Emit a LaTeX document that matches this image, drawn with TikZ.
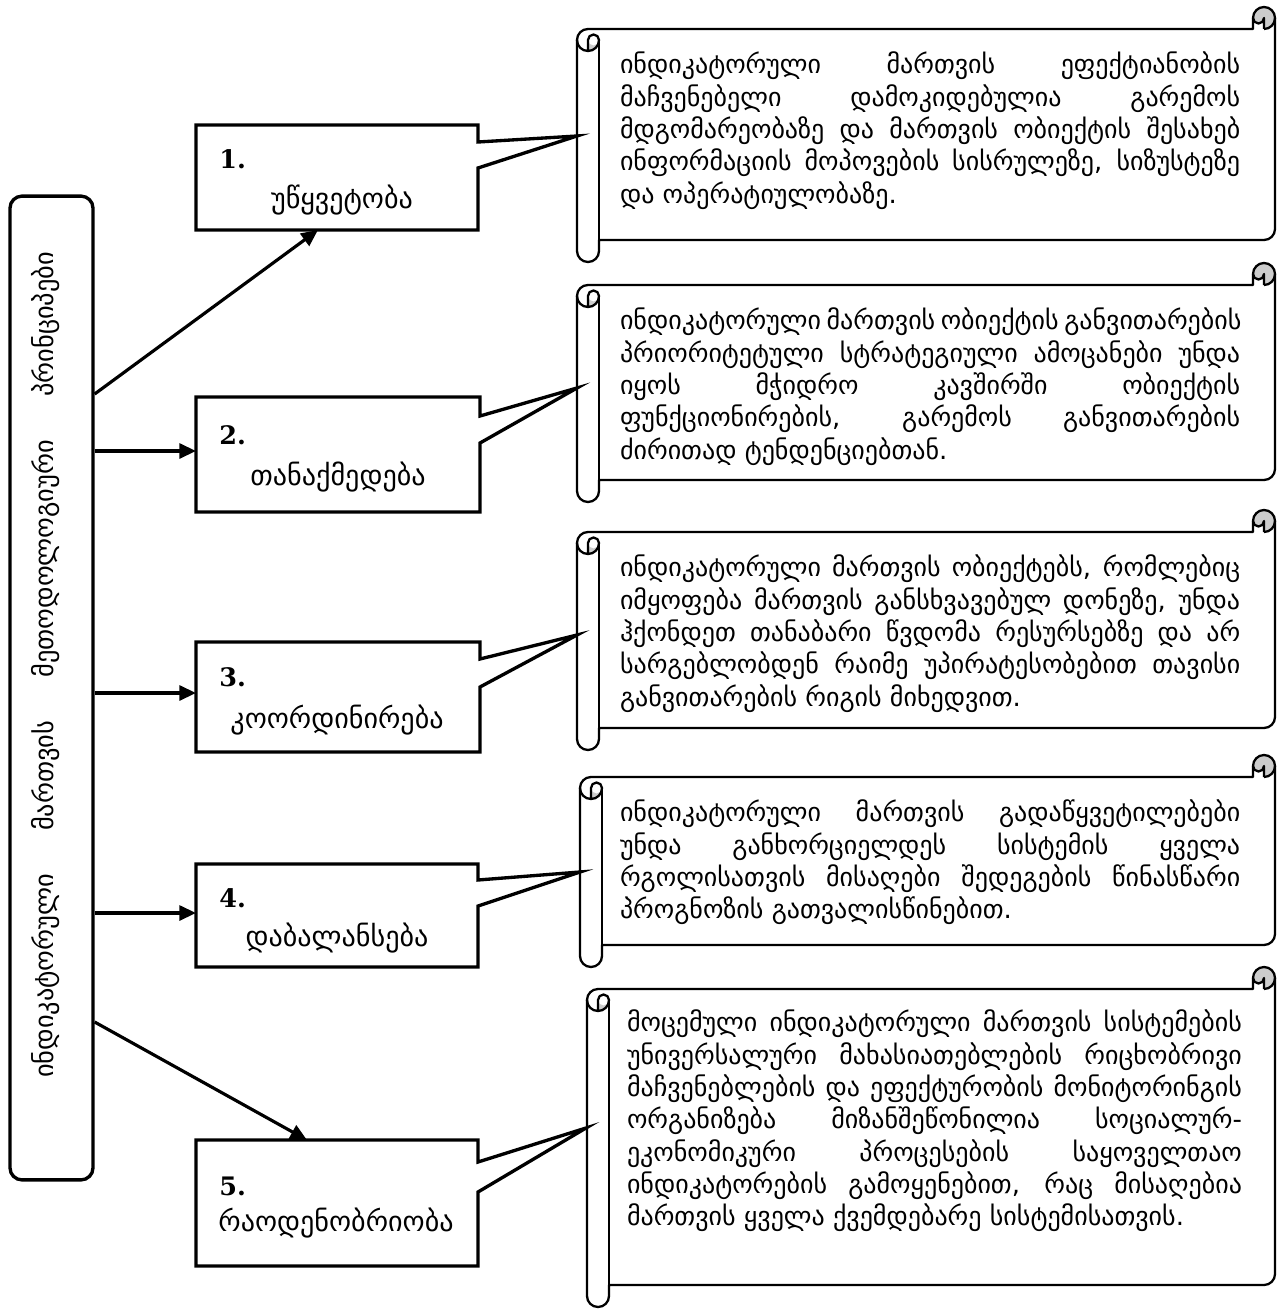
\documentclass[tikz,border=0pt]{standalone}
\usepackage{fontspec}
\setmainfont{DejaVu Sans}
\newfontfamily\numfont{DejaVu Serif}
\usetikzlibrary{arrows.meta}
\newcommand\jl[2]{\makebox[#1][s]{#2}}
\newcommand\drawscroll[5]{%
 \pgfmathsetmacro\scL{#1}%
 \pgfmathsetmacro\scR{#3}%
 \pgfmathsetmacro\scH{#5/2}%
 \pgfmathsetmacro\scQ{#5/4}%
 \pgfmathsetmacro\yCh{-(#2)-#5}%
 \pgfmathsetmacro\yChh{-(#2)-#5/2}%
 \pgfmathsetmacro\yThree{-(#2)-1.5*#5}%
 \pgfmathsetmacro\yFour{-(#2)-2*#5}%
 \pgfmathsetmacro\ySix{-(#4)+#5}%
 \pgfmathsetmacro\ySeven{-(#4)+#5/2}%
 \pgfmathsetmacro\yFive{-(#4)+1.5*#5}%
 \pgfmathsetmacro\xThree{#3-#5}%
 \pgfmathsetmacro\xFour{#3-#5/2}%
 \pgfmathsetmacro\xCh{#1+#5}%
 \pgfmathsetmacro\xChh{#1+#5/2}%
 \path[fill=white] (\scL,\yThree) arc[start angle=180,end angle=90,radius=\scH] -- (\xThree,\yCh) -- (\xThree,\yChh) arc[start angle=180,end angle=0,radius=\scH] -- (\scR,\yFive) arc[start angle=0,end angle=-90,radius=\scH] -- (\xCh,\ySix) -- (\xCh,\ySeven) arc[start angle=0,end angle=-180,radius=\scH] -- cycle;
 \fill[curlfill] (\xFour,\yCh) arc[start angle=-90,end angle=180,radius=\scH] arc[start angle=180,end angle=360,radius=\scQ] -- cycle;
 \fill[curlfill] (\xChh,\yFour) arc[start angle=-90,end angle=0,radius=\scH] arc[start angle=0,end angle=-180,radius=\scQ] -- cycle;
 \draw[scl] (\scL,\yThree) arc[start angle=180,end angle=90,radius=\scH] -- (\xThree,\yCh) -- (\xThree,\yChh) arc[start angle=180,end angle=0,radius=\scH] -- (\scR,\yFive) arc[start angle=0,end angle=-90,radius=\scH] -- (\xCh,\ySix) -- (\xCh,\ySeven) arc[start angle=0,end angle=-180,radius=\scH] -- cycle;
 \draw[scl] (\xFour,\yCh) arc[start angle=-90,end angle=0,radius=\scH];
 \draw[scl] (\xFour,\yCh) -- (\xFour,\yChh) arc[start angle=0,end angle=-180,radius=\scQ];
 \draw[scl] (\xChh,\yFour) -- (\xChh,\yThree) arc[start angle=180,end angle=0,radius=\scQ] arc[start angle=0,end angle=-180,radius=\scH];
 \draw[scl] (\xCh,\yThree) -- (\xCh,\ySix);
}
\tikzset{
  cbox/.style={draw=black, line width=1.9pt, fill=white, line join=miter},
  anchorbox/.style={inner sep=0pt, outer sep=0pt, draw=none},
  arr/.style={draw=black, line width=1.8pt, -{Triangle[length=9.5pt,width=8.5pt]}},
  scl/.style={draw=black, line width=1.3pt, line join=round},
  curlfill/.style={fill=black!20},
  stext/.style={anchor=north west, inner sep=0pt, outer sep=0pt, align=left, font=\fontsize{14.8pt}{18.4pt}\selectfont},
  lbl/.style={inner sep=0pt, font=\fontsize{16pt}{19pt}\selectfont},
  num/.style={inner sep=0pt, anchor=west, font=\numfont\bfseries\fontsize{14.5pt}{17pt}\selectfont},
  vtext/.style={inner sep=0pt, rotate=90, font=\fontsize{15pt}{18pt}\selectfont},
  leftbox/.style={draw=black, line width=1.9pt, rounded corners=0.24cm, fill=white, inner sep=0pt},
}
\begin{document}
\begin{tikzpicture}[x=0.02cm,y=0.02cm]
\useasboundingbox (0,0) rectangle (1277,-1311);

% scrolls
\drawscroll{577}{7}{1275}{262}{22}
\drawscroll{577}{263}{1275}{502}{22}
\drawscroll{577}{510}{1275}{750}{22}
\drawscroll{580}{755}{1275}{967}{22}
\drawscroll{587}{967}{1275}{1307}{22}

% scroll texts
\node[stext] (p1) at (620,-51) {\jl{353pt}{\rule{0pt}{13pt}ინდიკატორული მართვის ეფექტიანობის}\\
\jl{353pt}{მაჩვენებელი დამოკიდებულია გარემოს}\\
\jl{353pt}{მდგომარეობაზე და მართვის ობიექტის შესახებ}\\
\jl{353pt}{ინფორმაციის მოპოვების სისრულეზე, სიზუსტეზე}\\
და ოპერატიულობაზე.};

\node[stext] (p2) at (620,-307) {\jl{353pt}{\rule{0pt}{13pt}ინდიკატორული მართვის ობიექტის განვითარების}\\
\jl{353pt}{პრიორიტეტული სტრატეგიული ამოცანები უნდა}\\
\jl{353pt}{იყოს მჭიდრო კავშირში ობიექტის}\\
\jl{353pt}{ფუნქციონირების, გარემოს განვითარების}\\
ძირითად ტენდენციებთან.};

\node[stext] (p3) at (620,-554) {\jl{353pt}{\rule{0pt}{13pt}ინდიკატორული მართვის ობიექტებს, რომლებიც}\\
\jl{353pt}{იმყოფება მართვის განსხვავებულ დონეზე, უნდა}\\
\jl{353pt}{ჰქონდეთ თანაბარი წვდომა  რესურსებზე და არ}\\
\jl{353pt}{სარგებლობდენ რაიმე უპირატესობებით თავისი}\\
განვითარების რიგის მიხედვით.};

\node[stext] (p4) at (620,-799) {\jl{353pt}{\rule{0pt}{13pt}ინდიკატორული მართვის გადაწყვეტილებები}\\
\jl{353pt}{უნდა განხორციელდეს სისტემის ყველა}\\
\jl{353pt}{რგოლისათვის მისაღები შედეგების წინასწარი}\\
პროგნოზის გათვალისწინებით.};

\node[stext] (p5) at (627,-1009) {\jl{350pt}{\rule{0pt}{13pt}მოცემული ინდიკატორული მართვის სისტემების}\\
\jl{350pt}{უნივერსალური მახასიათებლების რიცხობრივი}\\
\jl{350pt}{მაჩვენებლების და  ეფექტურობის მონიტორინგის}\\
\jl{350pt}{ორგანიზება მიზანშეწონილია სოციალურ-}\\
\jl{350pt}{ეკონომიკური პროცესების საყოველთაო}\\
\jl{350pt}{ინდიკატორების გამოყენებით, რაც მისაღებია}\\
მართვის ყველა ქვემდებარე სისტემისათვის.};

% callout boxes
\draw[cbox] (196,-125) -- (478,-125) -- (478,-142) -- (577,-136) -- (478,-168) -- (478,-230) -- (196,-230) -- cycle;
\draw[cbox] (196,-397) -- (480,-397) -- (480,-416) -- (577,-388) -- (480,-443) -- (480,-512) -- (196,-512) -- cycle;
\draw[cbox] (196,-642) -- (480,-642) -- (480,-659) -- (577,-635) -- (480,-687) -- (480,-752) -- (196,-752) -- cycle;
\draw[cbox] (196,-864) -- (478,-864) -- (478,-880) -- (580,-872) -- (478,-906) -- (478,-967) -- (196,-967) -- cycle;
\draw[cbox] (196,-1140) -- (478,-1140) -- (478,-1162) -- (586,-1128) -- (478,-1192) -- (478,-1266) -- (196,-1266) -- cycle;

\node[anchorbox, minimum width=5.64cm, minimum height=2.1cm] (b1) at (337,-177.5) {};
\node[anchorbox, minimum width=5.68cm, minimum height=2.3cm] (b2) at (338,-454.5) {};
\node[anchorbox, minimum width=5.68cm, minimum height=2.2cm] (b3) at (338,-697) {};
\node[anchorbox, minimum width=5.64cm, minimum height=2.06cm] (b4) at (337,-915.5) {};
\node[anchorbox, minimum width=5.64cm, minimum height=2.52cm] (b5) at (337,-1203) {};

\node[num] (n1) at (219,-159) {1.};
\node[num] (n2) at (219,-435) {2.};
\node[num] (n3) at (219,-677) {3.};
\node[num] (n4) at (219,-898) {4.};
\node[num] (n5) at (219,-1186) {5.};
\node[lbl] (l1) at (342,-200) {უწყვეტობა};
\node[lbl] (l2) at (338,-477) {თანაქმედება};
\node[lbl] (l3) at (337,-720) {კოორდინირება};
\node[lbl] (l4) at (337,-938) {დაბალანსება};
\node[lbl] (l5) at (336,-1223) {რაოდენობრიობა};

% left box
\node[leftbox, minimum width=1.66cm, minimum height=19.68cm] (lb) at (51.5,-688) {};
\node[vtext] (lt) at (46,-665) {\jl{470pt}{ინდიკატორული მართვის მეთოდოლოგიური პრინციპები}};

% connectors
\draw[arr] (lb.east |- 0,-394) -- (b1.south -| 318,0);
\draw[arr] (lb.east |- 0,-451) -- (b2.west |- 0,-451);
\draw[arr] (lb.east |- 0,-693) -- (b3.west |- 0,-693);
\draw[arr] (lb.east |- 0,-913) -- (b4.west |- 0,-913);
\draw[arr] (lb.east |- 0,-1022) -- (b5.north -| 307,0);
\end{tikzpicture}
\end{document}
